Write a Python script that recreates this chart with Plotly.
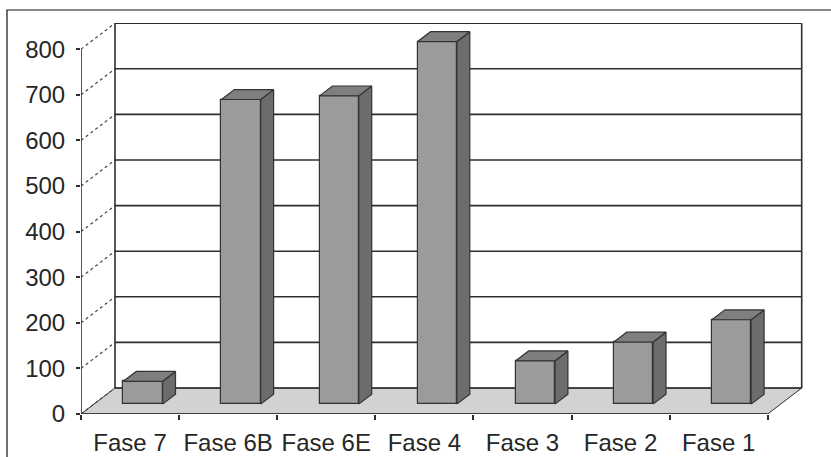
import plotly.graph_objects as go

categories = ["Fase 7", "Fase 6B", "Fase 6E", "Fase 4", "Fase 3", "Fase 2", "Fase 1"]
values = [50, 668, 676, 795, 95, 136, 185]
y_ticks = [0, 100, 200, 300, 400, 500, 600, 700, 800]

# geometry (pixel-based layout)
W, H = 831, 457
L, R, T, B = 81, 803, 23, 414
cat_px = 98.1
unit_px = 0.456
x0 = -0.5
x1 = x0 + (R - L) / cat_px
y1 = (B - T) / unit_px
DX = 34 / cat_px      # depth offset in x units
DY = 26 / unit_px     # depth offset in y units
n = len(categories)
t1, t2 = 0.38, 0.76   # bar front/back depth fractions
bw = 0.40

line_c = "#2e2e2e"
shapes = []
# floor
fx = [x0, x0 + n, x0 + n + DX, x0 + DX]
fy = [0, 0, DY, DY]
path = "M " + " L ".join(f"{a},{b}" for a, b in zip(fx, fy)) + " Z"
shapes.append(dict(type="path", path=path, xref="x", yref="y", fillcolor="#d2d2d2",
                   line=dict(color=line_c, width=1), layer="below"))
# back wall grid lines
for v in y_ticks:
    shapes.append(dict(type="line", xref="x", yref="y", x0=x0 + DX, x1=x0 + n + DX,
                       y0=v + DY, y1=v + DY, line=dict(color=line_c, width=1.6), layer="below"))
    # left wall diagonal
    shapes.append(dict(type="line", xref="x", yref="y", x0=x0, x1=x0 + DX,
                       y0=v, y1=v + DY, line=dict(color="#444", width=1.2, dash="dot"), layer="below"))
# back wall verticals
for xv in (x0 + DX, x0 + n + DX):
    shapes.append(dict(type="line", xref="x", yref="y", x0=xv, x1=xv, y0=DY, y1=y_ticks[-1] + DY,
                       line=dict(color=line_c, width=1.6), layer="below"))
# front axes
shapes.append(dict(type="line", xref="x", yref="y", x0=x0, x1=x0, y0=0, y1=y_ticks[-1],
                   line=dict(color=line_c, width=1.6)))
shapes.append(dict(type="line", xref="x", yref="y", x0=x0, x1=x0 + n, y0=0, y1=0,
                   line=dict(color=line_c, width=1.6)))
# outer border (left and top)
shapes.append(dict(type="rect", xref="paper", yref="paper",
                   x0=(7 - L) / (R - L), x1=(850 - L) / (R - L),
                   y0=(B - 480) / (B - T), y1=(B - 10) / (B - T),
                   line=dict(color="#111", width=1.2), fillcolor="rgba(0,0,0,0)", layer="below"))

fig = go.Figure()

xs = [i + t1 * DX for i in range(n)]
base = t1 * DY
fig.add_trace(go.Bar(x=xs, y=values, base=base, width=bw,
                     marker=dict(color="#9b9b9b", line=dict(color="#333", width=1.2)),
                     hoverinfo="skip", showlegend=False))

ddx = (t2 - t1) * DX
ddy = (t2 - t1) * DY
for xc, v in zip(xs, values):
    xl, xr = xc - bw / 2, xc + bw / 2
    top = base + v
    # side face
    fig.add_trace(go.Scatter(x=[xr, xr + ddx, xr + ddx, xr, xr], y=[base, base + ddy, top + ddy, top, base],
                             fill="toself", fillcolor="#6c6c6c", mode="lines",
                             line=dict(color="#333", width=1.2), hoverinfo="skip", showlegend=False))
    # top face
    fig.add_trace(go.Scatter(x=[xl, xr, xr + ddx, xl + ddx, xl], y=[top, top, top + ddy, top + ddy, top],
                             fill="toself", fillcolor="#7f7f7f", mode="lines",
                             line=dict(color="#333", width=1.2), hoverinfo="skip", showlegend=False))

font = dict(family="Liberation Sans, Arial, sans-serif", color="#262626")
fig.update_layout(
    width=W, height=H,
    margin=dict(l=L, r=W - R, t=T, b=H - B, pad=0, autoexpand=False),
    paper_bgcolor="white", plot_bgcolor="white",
    shapes=shapes, bargap=0,
    xaxis=dict(range=[x0, x1], tickvals=list(range(n)), ticktext=categories,
               showgrid=False, zeroline=False, showline=False, ticks="", automargin=False,
               tickfont=dict(size=24, **font), ticklabelstandoff=12,
               minor=dict(tickvals=[x0 + k for k in range(n + 1)], ticks="outside",
                          ticklen=5, tickcolor=line_c, tickwidth=1.5)),
    yaxis=dict(range=[0, y1], tickvals=y_ticks, ticktext=[str(v) for v in y_ticks],
               showgrid=False, zeroline=False, showline=False, ticks="outside", automargin=False,
               ticklen=4, tickcolor=line_c, tickwidth=1.5,
               tickfont=dict(size=24, **font), ticklabelstandoff=6),
)
fig.write_html("out.html")
